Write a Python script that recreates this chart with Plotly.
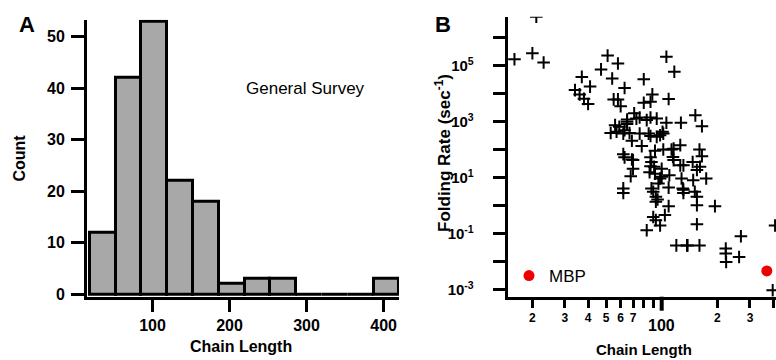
import plotly.graph_objects as go

# ---------------- Panel A data: histogram of chain lengths ----------------
bin_left = [18.5, 52, 85.5, 119, 152.5, 186, 219.5, 253, 286.5, 320, 353.5, 387]
bin_width = 33.5
counts = [12, 42, 53, 22, 18, 2, 3, 3, 0, 0, 0, 3]
a_xticks = [100, 200, 300, 400]
a_yticks = [0, 10, 20, 30, 40, 50]

# ---------------- Panel B data: folding rate vs chain length ----------------
chain_len = [21, 16, 20, 23, 37, 34, 36, 41, 38, 40, 51, 58, 47, 54, 63, 55, 60, 106, 117, 80,
             89, 109, 80, 87, 71, 76, 65, 65, 65, 87, 94, 106, 127, 152, 165, 56, 53, 57, 63, 76,
             85, 87, 101, 98, 94, 69, 78, 92, 102, 113, 116, 126, 62, 63, 69, 70, 68, 87, 87, 91,
             100, 86, 115, 126, 131, 147, 160, 165, 155, 174, 128, 110, 98, 96, 62, 62, 88, 90, 109, 130,
             131, 151, 155, 155, 194, 93, 93, 109, 104, 90, 93, 98, 83, 155, 120, 137, 160, 222, 222, 223,
             262, 268, 410, 398, 67, 62, 70, 116, 88, 73, 59, 102, 83, 92, 100, 161, 148, 131, 58, 95, 138]
rate = [5.6e6, 1.7e5, 2.8e5, 1.3e5, 4.0e4, 1.35e4, 9.5e3, 1.8e4, 6.6e3, 4.3e3, 2.3e5, 1.2e5, 7.4e4, 3.5e4, 1.6e4, 6.3e3, 3.6e3, 2.1e5, 6.1e4, 3.3e4,
        9.5e3, 6.5e3, 4.8e3, 5.2e3, 2.0e3, 1.43e3, 1.2e3, 8.3e2, 1.0e3, 1.43e3, 1.3e3, 9.2e2, 9.2e2, 1.7e3, 7.0e2, 7.6e2, 4.0e2, 4.4e2, 5.0e2, 3.8e2,
        3.8e2, 3.1e2, 4.4e2, 3.3e2, 2.9e2, 2.1e2, 1.36e2, 92, 103, 103, 110, 147, 70, 54, 45, 21, 11.5, 54, 26, 25,
        21, 16, 56, 28, 28, 37, 103, 59, 19, 9.5, 9.5, 12.4, 9.5, 6.3, 4.2, 2.9, 4.2, 3.2, 4.5, 4.2,
        2.9, 3.2, 2.1, 1.06, 0.98, 2.1, 1.4, 0.98, 0.47, 0.40, 0.31, 0.20, 0.135, 0.22, 0.039, 0.039, 0.039, 0.030, 0.020, 0.010,
        0.015, 0.083, 0.20, 9.8e-4, 4.0e2, 3.8e2, 43, 43, 37, 1.3e3, 6.6e2, 3.8e2, 1.15e3, 14, 11, 25, 8.3, 3.8, 6.3e3, 1.7, 0.039]
mbp_len = [370]
mbp_rate = [0.0048]

b_xtickvals = [20, 30, 40, 50, 60, 70, 200, 300, 400]
b_xticktext = ["2", "3", "4", "5", "6", "7", "2", "3", "4"]
b_xminor = [80, 90]
b_ytickvals = [1e-3, 1e-1, 10, 1e3, 1e5]
b_yticktext = ["10<sup>-3</sup>", "10<sup>-1</sup>", "10<sup>1</sup>",
               "10<sup>3</sup>", "10<sup>5</sup>"]
b_yminor = [1e-2, 1, 100, 1e4, 1e6]

W, H = 776, 360
FONT = "Liberation Sans, Arial, sans-serif"


def px(x):
    return x / W


def py(y):
    return 1 - y / H


fig = go.Figure()
fig.add_trace(go.Bar(
    x=bin_left, y=counts, width=bin_width, offset=0,
    marker=dict(color="#a8a8a8", line=dict(color="black", width=3)),
    xaxis="x", yaxis="y", showlegend=False))
fig.add_trace(go.Scatter(
    x=chain_len, y=rate, mode="markers",
    marker=dict(symbol="cross-thin", size=9, color="black",
                line=dict(color="black", width=2)),
    xaxis="x2", yaxis="y2", showlegend=False))
fig.add_trace(go.Scatter(
    x=mbp_len, y=mbp_rate, mode="markers", name="MBP",
    marker=dict(symbol="circle", size=11, color="#ee0000"),
    xaxis="x2", yaxis="y2", showlegend=True))

axis_common = dict(showgrid=False, zeroline=False, showline=True, linecolor="black",
                   linewidth=3, ticks="outside", tickcolor="black", automargin=False)

fig.update_layout(
    width=W, height=H, template="none",
    margin=dict(l=0, r=0, t=0, b=0),
    paper_bgcolor="white", plot_bgcolor="white",
    font=dict(family=FONT, color="black"),
    xaxis=dict(domain=[px(87), px(399)], range=[15, 420], anchor="y",
               tickvals=a_xticks, ticklen=12, tickwidth=3,
               tickfont=dict(size=16, weight="bold"), **axis_common),
    yaxis=dict(domain=[py(297), py(19.7)], range=[-0.52, 53.3], anchor="x",
               tickvals=a_yticks, ticklen=13, tickwidth=3, ticklabelstandoff=3,
               tickfont=dict(size=16, weight="bold"), **axis_common),
    xaxis2=dict(type="log", domain=[px(507.7), 1.0], range=[1.1676, 2.6178], anchor="y2",
                tickvals=b_xtickvals, ticktext=b_xticktext, ticklen=8, tickwidth=2.5,
                minor=dict(tickvals=b_xminor, ticklen=8, tickwidth=2.5, ticks="outside",
                           tickcolor="black", showgrid=False),
                tickfont=dict(size=12, weight="bold"), **axis_common),
    yaxis2=dict(type="log", domain=[py(296.7), py(16.7)], range=[-3.24, 6.75], anchor="x2",
                tickvals=b_ytickvals, ticktext=b_yticktext, ticklen=12, tickwidth=3,
                ticklabelstandoff=16,
                minor=dict(tickvals=b_yminor, ticklen=12, tickwidth=3, ticks="outside",
                           tickcolor="black", showgrid=False),
                tickfont=dict(size=15, weight="bold"), **axis_common),
    showlegend=True,
    legend=dict(x=px(509), y=py(276), xanchor="left", yanchor="middle",
                bgcolor="rgba(0,0,0,0)", font=dict(size=17)),
    bargap=0,
)

# long tick at 100 on the log axis
fig.add_shape(type="line", xref="x2", yref="paper", x0=100, x1=100,
              ysizemode="pixel", yanchor=py(296.7), y0=0, y1=-14,
              line=dict(color="black", width=4))

ann = [
    dict(text="<b>A</b>", x=px(27), y=py(25), font=dict(size=22)),
    dict(text="<b>B</b>", x=px(443), y=py(25), font=dict(size=22)),
    dict(text="General Survey", x=px(305), y=py(88), font=dict(size=17)),
    dict(text="<b>Count</b>", x=px(18.5), y=py(158), textangle=-90, font=dict(size=16)),
    dict(text="<b>Chain Length</b>", x=px(241), y=py(346), font=dict(size=16)),
    dict(text="<b>Folding Rate (sec<sup>-1</sup>)</b>", x=px(443), y=py(153), textangle=-90,
         font=dict(size=17)),
    dict(text="<b>Chain Length</b>", x=px(644), y=py(349), font=dict(size=15)),
]
for a in ann:
    fig.add_annotation(xref="paper", yref="paper", showarrow=False,
                       xanchor="center", yanchor="middle", **a)
fig.add_annotation(text="<b>100</b>", xref="x2", yref="paper", x=2, y=py(325),
                   showarrow=False, xanchor="center", yanchor="middle", font=dict(size=16))

fig.write_html("out.html")
